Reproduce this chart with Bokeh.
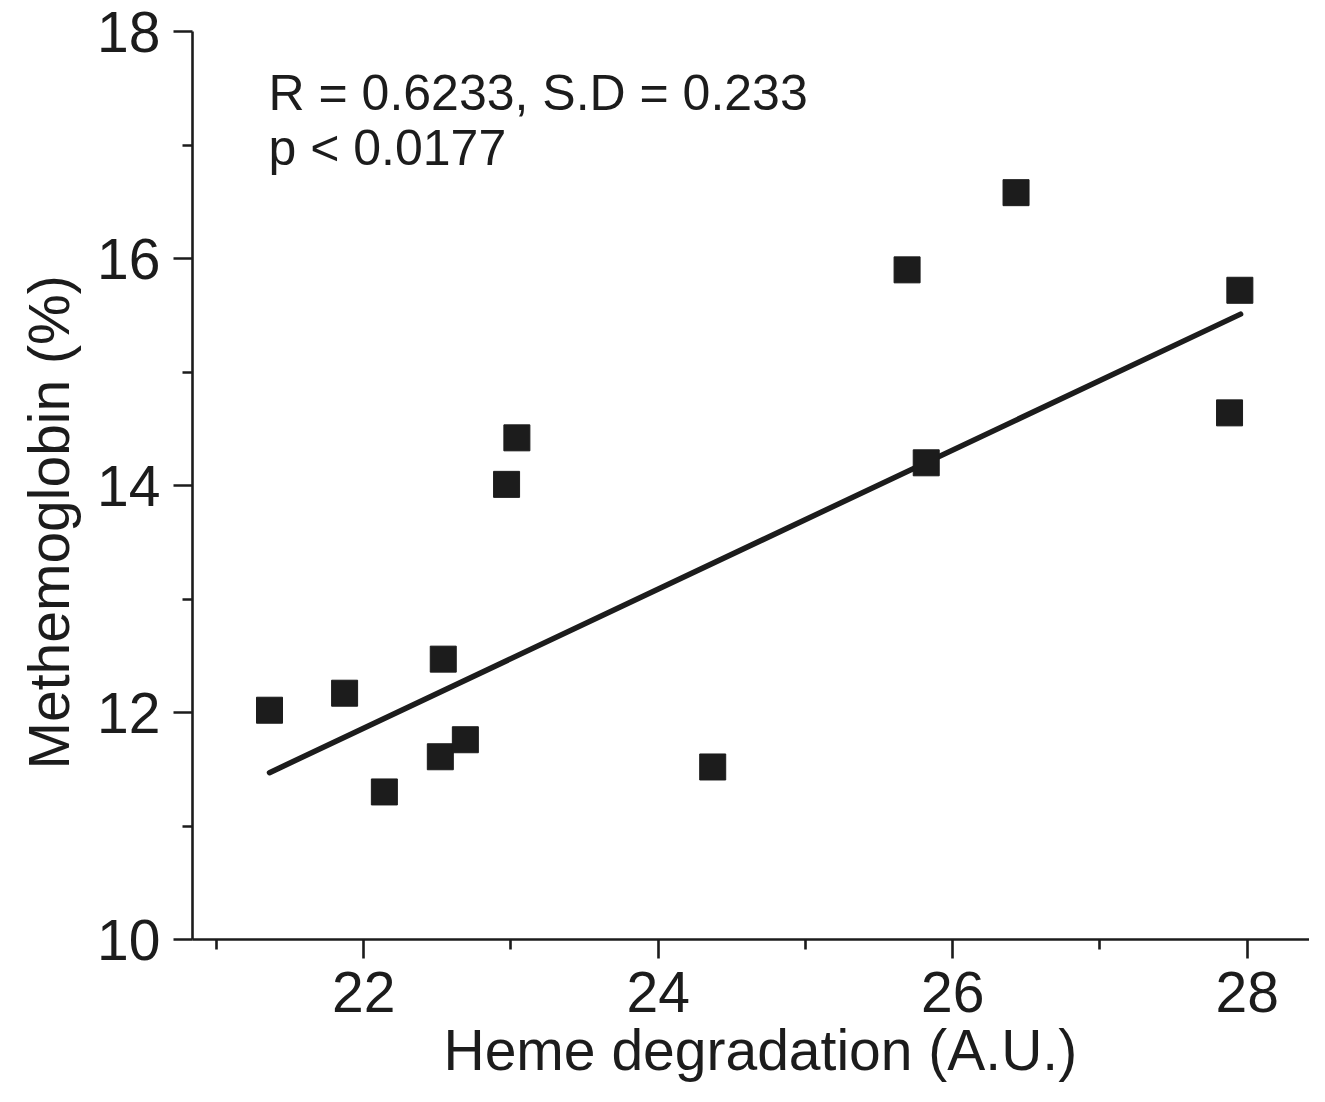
from bokeh.plotting import figure
from bokeh.models import FixedTicker, Range1d, Label, Title
from bokeh.embed import file_html
from bokeh.resources import INLINE

# ---- data ----
heme = [21.36, 21.87, 22.14, 22.54, 22.52, 22.69, 22.97, 23.04, 24.37, 25.69, 25.82, 26.43, 27.88, 27.95]
methb = [12.02, 12.17, 11.30, 12.47, 11.61, 11.76, 14.01, 14.42, 11.52, 15.90, 14.20, 16.58, 14.64, 15.72]
fit_x = [21.36, 27.955]
fit_y = [11.47, 15.51]
x_major = [22, 24, 26, 28]
x_minor = [21, 23, 25, 27]
y_major = [10, 12, 14, 16, 18]
y_minor = [11, 13, 15, 17]
stats_line1 = "R = 0.6233, S.D = 0.233"
stats_line2 = "p < 0.0177"
x_title = "Heme degradation (A.U.)"
y_title = "Methemoglobin (%)"

FONT = "Liberation Sans"
INK = "#1c1c1c"

p = figure(width=1309, height=1086, output_backend="svg", toolbar_location=None,
           x_range=Range1d(20.837, 28.423), y_range=Range1d(10, 18),
           min_border_left=192, min_border_right=0, min_border_top=31, min_border_bottom=147)
p.outline_line_color = None
p.xgrid.visible = False
p.ygrid.visible = False
p.background_fill_color = "white"
p.border_fill_color = "white"

for ax, maj, mnr in ((p.xaxis[0], x_major, x_minor), (p.yaxis[0], y_major, y_minor)):
    ax.ticker = FixedTicker(ticks=maj, minor_ticks=mnr)
    ax.axis_line_color = INK
    ax.axis_line_width = 2.6
    ax.major_tick_line_color = INK
    ax.major_tick_line_width = 2.6
    ax.minor_tick_line_color = INK
    ax.minor_tick_line_width = 2.6
    ax.major_tick_in = 0
    ax.major_tick_out = 19
    ax.minor_tick_in = 0
    ax.minor_tick_out = 10
    ax.major_label_text_font = FONT
    ax.major_label_text_font_size = "57px"
    ax.major_label_text_color = INK

p.xaxis[0].major_label_standoff = 13
p.yaxis[0].major_label_standoff = 13

# axis titles, placed like the reference (not centred on the frame)
p.add_layout(Title(text=y_title, align="left", offset=170, standoff=28,
                   text_font=FONT, text_font_size="57px", text_font_style="normal",
                   text_color=INK), "left")
p.add_layout(Title(text=x_title, align="left", offset=251, standoff=3,
                   text_font=FONT, text_font_size="57px", text_font_style="normal",
                   text_color=INK), "below")

# regression line
p.line(fit_x, fit_y, line_color=INK, line_width=5.5, line_cap="round")
# points
p.scatter(heme, methb, marker="square", size=26, fill_color=INK, line_color=INK)

# statistics text
p.add_layout(Label(x=21.353, y=17.46, text=stats_line1, text_baseline="alphabetic",
                   text_font=FONT, text_font_size="50px", text_color=INK))
p.add_layout(Label(x=21.353, y=16.97, text=stats_line2, text_baseline="alphabetic",
                   text_font=FONT, text_font_size="50px", text_color=INK))

open("out.html", "w").write(file_html(p, INLINE))
